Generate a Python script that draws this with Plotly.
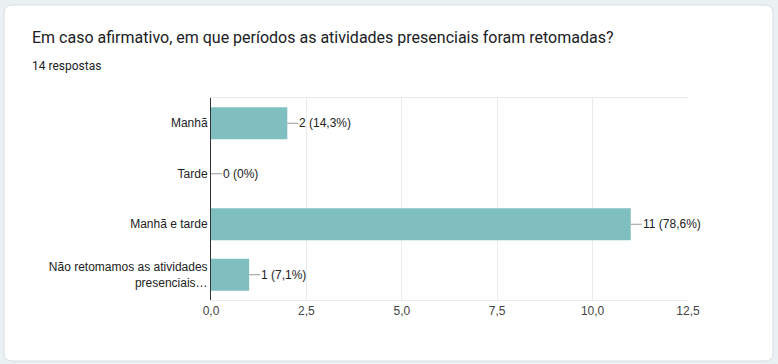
import plotly.graph_objects as go

categories = ["Manhã", "Tarde", "Manhã e tarde", "Não retomamos as atividades<br>presenciais…"]
counts = [2, 0, 11, 1]
labels = ["2 (14,3%)", "0 (0%)", "11 (78,6%)", "1 (7,1%)"]
title = "Em caso afirmativo, em que períodos as atividades presenciais foram retomadas?"
subtitle = "14 respostas"

W, H = 778, 364
L, R, T, B = 211, 90, 98, 64
pw, ph = W - L - R, H - T - B

def px(x):
    return (x - L) / pw

def py(y):
    return (H - B - y) / ph

fig = go.Figure()
fig.add_trace(go.Bar(
    y=categories, x=counts, orientation="h",
    marker=dict(color="#80bfbf", line=dict(width=0)),
    width=0.63, hoverinfo="skip",
))

for c, v, t in zip(categories, counts, labels):
    fig.add_annotation(
        x=v, y=c, xref="x", yref="y", text=t, showarrow=True,
        arrowhead=0, arrowwidth=1, arrowcolor="#999999",
        ax=11, ay=0, xanchor="left", yanchor="middle", borderpad=0,
        font=dict(family="Arial", size=12, color="#222222"),
        standoff=0, startstandoff=0,
    )

# card background with rounded corners
x0, x1, y0, y1, r = 4, 773, 5, 361, 8
path = (
    f"M {px(x0 + r)} {py(y0)} L {px(x1 - r)} {py(y0)} "
    f"Q {px(x1)} {py(y0)} {px(x1)} {py(y0 + r)} "
    f"L {px(x1)} {py(y1 - r)} Q {px(x1)} {py(y1)} {px(x1 - r)} {py(y1)} "
    f"L {px(x0 + r)} {py(y1)} Q {px(x0)} {py(y1)} {px(x0)} {py(y1 - r)} "
    f"L {px(x0)} {py(y0 + r)} Q {px(x0)} {py(y0)} {px(x0 + r)} {py(y0)} Z"
)
fig.add_shape(type="path", path=path, xref="paper", yref="paper",
              fillcolor="white", line=dict(color="#dadce0", width=1), layer="below")

fig.add_annotation(x=px(30), y=py(38), xref="paper", yref="paper", text=title,
                   showarrow=False, xanchor="left", yanchor="middle",
                   font=dict(family="Roboto", size=16, color="#202124"))
fig.add_annotation(x=px(30), y=py(66), xref="paper", yref="paper", text=subtitle,
                   showarrow=False, xanchor="left", yanchor="middle",
                   font=dict(family="Roboto", size=12, color="#202124"))

fig.update_layout(
    width=W, height=H,
    margin=dict(l=L, r=R, t=T, b=B, pad=0),
    paper_bgcolor="#e9f1f3", plot_bgcolor="rgba(0,0,0,0)",
    separators=",.",
    showlegend=False,
    bargap=0.37,
    xaxis=dict(range=[0, 12.5], dtick=2.5, tick0=0, tickformat=".1f",
               showgrid=True, gridcolor="#ebebeb", gridwidth=1,
               zeroline=False, showline=True, mirror=True, linecolor="#ebebeb",
               ticks="", ticklen=0,
               tickfont=dict(family="Arial", size=12, color="#444444")),
    yaxis=dict(autorange="reversed", showgrid=False, zeroline=False,
               showline=True, linecolor="#333333", linewidth=1,
               ticks="", ticklen=0,
               tickfont=dict(family="Arial", size=12, color="#222222")),
)

fig.write_html("out.html", config={"displayModeBar": False},
               post_script="document.body.style.margin='0';document.body.style.background='#e9f1f3';")
